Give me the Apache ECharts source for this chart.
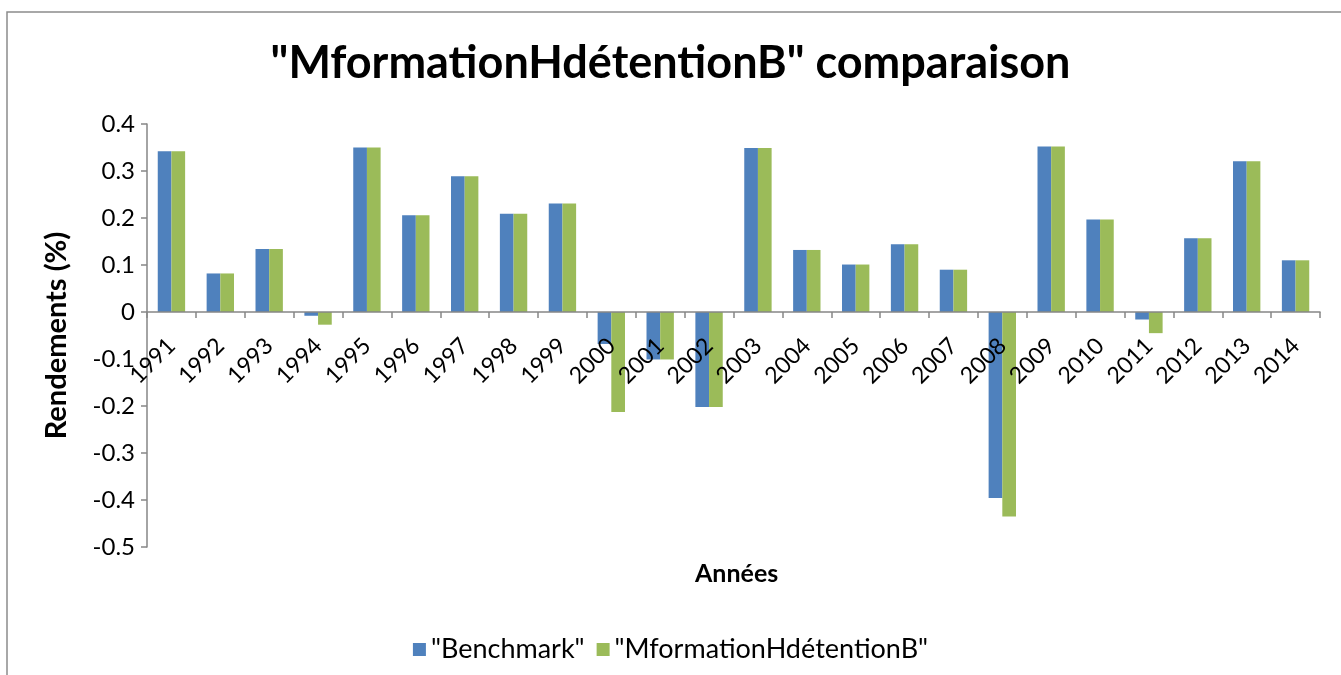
<!DOCTYPE html>
<html>
<head>
<meta charset="utf-8">
<script src="https://cdn.jsdelivr.net/npm/echarts@6/dist/echarts.min.js"></script>
<style>
  html, body { margin: 0; padding: 0; background: #fff; }
  #chart { width: 1341px; height: 675px; }
</style>
</head>
<body>
<div id="chart"></div>
<script>
// données
const years = ['1991', '1992', '1993', '1994', '1995', '1996', '1997', '1998', '1999', '2000', '2001', '2002',
  '2003', '2004', '2005', '2006', '2007', '2008', '2009', '2010', '2011', '2012', '2013', '2014'];
const benchmark = [0.342, 0.082, 0.134, -0.008, 0.350, 0.206, 0.289, 0.209, 0.231, -0.068, -0.101, -0.202,
  0.349, 0.132, 0.101, 0.144, 0.090, -0.396, 0.352, 0.197, -0.016, 0.157, 0.321, 0.110];
const mformation = [0.342, 0.082, 0.134, -0.027, 0.350, 0.206, 0.289, 0.209, 0.231, -0.213, -0.101, -0.202,
  0.349, 0.132, 0.101, 0.144, 0.090, -0.435, 0.352, 0.197, -0.045, 0.157, 0.321, 0.110];
const seriesNames = ['"Benchmark"', '"MformationHdétentionB"'];

const font = 'Lato, "Open Sans", sans-serif';
const axisColor = '#868686';

// grille : l'axe des catégories est posé sur la ligne du zéro
const gridTop = 124, gridBottom = 128, chartH = 675;
const yMin = -0.5, yMax = 0.4;
const plotH = chartH - gridTop - gridBottom;
const zeroOffset = -plotH * (0 - yMin) / (yMax - yMin);

const chart = echarts.init(document.getElementById('chart'));

const option = {
  animation: false,
  textStyle: { fontFamily: font, color: '#000' },
  graphic: [
    {
      type: 'rect',
      shape: { x: 7, y: 12, width: 1400, height: 700 },
      style: { fill: 'none', stroke: '#8c8c8c', lineWidth: 1.5 },
      silent: true
    }
  ],
  title: [
    {
      text: '"MformationHdétentionB" comparaison',
      left: 'center',
      top: 36,
      textStyle: { fontFamily: font, fontSize: 45, fontWeight: 'bold', color: '#000' }
    },
    {
      text: 'Années',
      left: 690,
      top: 556,
      textStyle: { fontFamily: font, fontSize: 25, fontWeight: 'bold', color: '#000' }
    }
  ],
  legend: {
    left: 'center',
    top: 631,
    itemWidth: 13,
    itemHeight: 13,
    itemGap: 12,
    icon: 'rect',
    textStyle: { fontFamily: font, fontSize: 27, color: '#000' },
    data: seriesNames
  },
  grid: { left: 147, right: 21, top: gridTop, bottom: gridBottom },
  xAxis: {
    type: 'category',
    data: years,
    offset: zeroOffset,
    z: 10,
    axisLine: { onZero: false, lineStyle: { color: axisColor, width: 1.5 } },
    axisTick: { show: true, length: 6, lineStyle: { color: axisColor, width: 1.5 } },
    axisLabel: { rotate: 45, fontSize: 23, color: '#000', margin: 30, interval: 0, fontFamily: font }
  },
  yAxis: {
    type: 'value',
    min: yMin,
    max: yMax,
    interval: 0.1,
    name: 'Rendements (%)',
    nameLocation: 'middle',
    nameGap: 76,
    nameTextStyle: { fontFamily: font, fontSize: 29, fontWeight: 'bold', color: '#000' },
    axisLine: { show: true, lineStyle: { color: axisColor, width: 1.5 } },
    axisTick: { show: true, length: 6, lineStyle: { color: axisColor, width: 1.5 } },
    splitLine: { show: false },
    axisLabel: {
      fontSize: 24, color: '#000', margin: 12, fontFamily: font,
      formatter: v => {
        const r = Math.round(v * 10) / 10;
        return r === 0 ? '0' : String(r);
      }
    }
  },
  series: [
    {
      name: seriesNames[0],
      type: 'bar',
      data: benchmark,
      barGap: '0%',
      barCategoryGap: '44%',
      itemStyle: { color: '#4F81BD' }
    },
    {
      name: seriesNames[1],
      type: 'bar',
      data: mformation,
      itemStyle: { color: '#9BBB59' }
    }
  ]
};

chart.setOption(option);
</script>
</body>
</html>
